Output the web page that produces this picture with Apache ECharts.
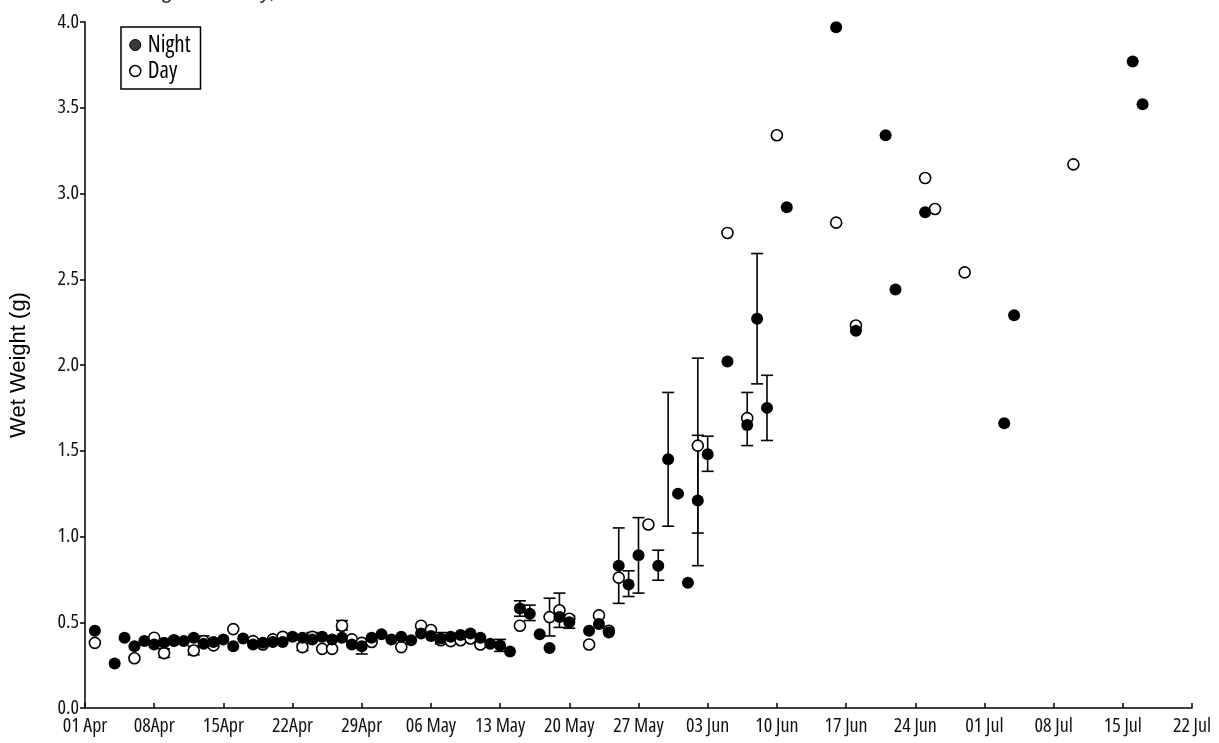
<!DOCTYPE html>
<html>
<head>
<meta charset="utf-8">
<title>Wet Weight, Night vs Day</title>
<script src="https://cdn.jsdelivr.net/npm/echarts@6/dist/echarts.min.js"></script>
<style>
  html, body { margin: 0; padding: 0; background: #fff; }
  #chart { width: 1219px; height: 743px; }
</style>
</head>
<body>
<div id="chart"></div>
<script>
// Tick labels along the date axis (one per week starting 01 Apr)
const tickLabels = ['01 Apr', '08Apr', '15Apr', '22Apr', '29Apr', '06 May', '13 May', '20 May',
  '27 May', '03 Jun', '10 Jun', '17 Jun', '24 Jun', '01 Jul', '08 Jul', '15 Jul', '22 Jul'];

// Night samples: date, mean wet weight (g), error bar low / high (null = no bar)
const nightDates = [
  '2003-04-02', '2003-04-04', '2003-04-05', '2003-04-06', '2003-04-07', '2003-04-08', '2003-04-09',
  '2003-04-10', '2003-04-11', '2003-04-12', '2003-04-13', '2003-04-14', '2003-04-15', '2003-04-16',
  '2003-04-17', '2003-04-18', '2003-04-19', '2003-04-20', '2003-04-21', '2003-04-22', '2003-04-23',
  '2003-04-24', '2003-04-25', '2003-04-26', '2003-04-27', '2003-04-28', '2003-04-29', '2003-04-30',
  '2003-05-01', '2003-05-02', '2003-05-03', '2003-05-04', '2003-05-05', '2003-05-06', '2003-05-07',
  '2003-05-08', '2003-05-09', '2003-05-10', '2003-05-11', '2003-05-12', '2003-05-13', '2003-05-14',
  '2003-05-15', '2003-05-16', '2003-05-17', '2003-05-18', '2003-05-19', '2003-05-20', '2003-05-22',
  '2003-05-23', '2003-05-24', '2003-05-25', '2003-05-26', '2003-05-27', '2003-05-29', '2003-05-30',
  '2003-05-31', '2003-06-01', '2003-06-02', '2003-06-03', '2003-06-05', '2003-06-07', '2003-06-08',
  '2003-06-09', '2003-06-11', '2003-06-16', '2003-06-18', '2003-06-21', '2003-06-22', '2003-06-25',
  '2003-07-03', '2003-07-04', '2003-07-16', '2003-07-17'];
const nightWeight = [
  0.45, 0.26, 0.41, 0.36, 0.39, 0.37, 0.38,
  0.39, 0.39, 0.41, 0.375, 0.385, 0.40, 0.36,
  0.405, 0.37, 0.38, 0.385, 0.385, 0.415, 0.41,
  0.40, 0.415, 0.40, 0.41, 0.37, 0.36, 0.41,
  0.43, 0.40, 0.415, 0.395, 0.435, 0.42, 0.405,
  0.415, 0.425, 0.435, 0.41, 0.375, 0.365, 0.33,
  0.58, 0.55, 0.43, 0.35, 0.53, 0.50, 0.45,
  0.49, 0.44, 0.83, 0.72, 0.89, 0.83, 1.45,
  1.25, 0.73, 1.21, 1.48, 2.02, 1.65, 2.27,
  1.75, 2.92, 3.97, 2.20, 3.34, 2.44, 2.89,
  1.66, 2.29, 3.77, 3.52];
const nightLow = [
  null, null, null, null, null, null, null,
  null, null, null, null, null, null, null,
  null, null, null, null, null, null, null,
  null, null, null, null, null, 0.315, null,
  null, null, null, null, null, null, 0.375,
  null, null, null, null, null, 0.33, null,
  0.535, 0.51, null, null, null, 0.465, null,
  null, null, 0.61, 0.65, 0.67, 0.745, 1.06,
  null, null, 0.83, 1.38, null, null, 1.89,
  1.56, null, null, null, null, null, null,
  null, null, null, null];
const nightHigh = [
  null, null, null, null, null, null, null,
  null, null, null, null, null, null, null,
  null, null, null, null, null, null, null,
  null, null, null, null, null, 0.40, null,
  null, null, null, null, null, null, 0.44,
  null, null, null, null, null, 0.40, null,
  0.625, 0.60, null, null, null, 0.535, null,
  null, null, 1.05, 0.80, 1.11, 0.92, 1.84,
  null, null, 1.59, 1.585, null, null, 2.65,
  1.94, null, null, null, null, null, null,
  null, null, null, null];

// Day samples: date, mean wet weight (g), error bar low / high (null = no bar)
const dayDates = [
  '2003-04-02', '2003-04-06', '2003-04-08', '2003-04-09', '2003-04-10', '2003-04-12', '2003-04-13',
  '2003-04-14', '2003-04-16', '2003-04-18', '2003-04-19', '2003-04-20', '2003-04-21', '2003-04-23',
  '2003-04-24', '2003-04-25', '2003-04-26', '2003-04-27', '2003-04-28', '2003-04-29', '2003-04-30',
  '2003-05-03', '2003-05-05', '2003-05-06', '2003-05-07', '2003-05-08', '2003-05-09', '2003-05-10',
  '2003-05-11', '2003-05-15', '2003-05-18', '2003-05-19', '2003-05-20', '2003-05-22', '2003-05-23',
  '2003-05-24', '2003-05-25', '2003-05-28', '2003-06-02', '2003-06-05', '2003-06-07', '2003-06-10',
  '2003-06-16', '2003-06-18', '2003-06-25', '2003-06-26', '2003-06-29', '2003-07-10'];
const dayWeight = [
  0.38, 0.29, 0.41, 0.32, 0.395, 0.335, 0.39,
  0.365, 0.46, 0.39, 0.37, 0.40, 0.415, 0.355,
  0.415, 0.345, 0.345, 0.48, 0.40, 0.38, 0.385,
  0.355, 0.48, 0.455, 0.395, 0.39, 0.395, 0.405,
  0.37, 0.48, 0.53, 0.57, 0.52, 0.37, 0.54,
  0.45, 0.76, 1.07, 1.53, 2.77, 1.69, 3.34,
  2.83, 2.23, 3.09, 2.91, 2.54, 3.17];
const dayLow = [
  null, null, null, 0.295, null, 0.31, 0.365,
  null, null, null, null, null, null, 0.335,
  0.39, null, null, 0.455, null, null, null,
  null, null, null, null, null, null, null,
  null, null, 0.42, 0.47, null, null, null,
  null, null, null, 1.02, null, 1.53, null,
  null, null, null, null, null, null];
const dayHigh = [
  null, null, null, 0.345, null, 0.36, 0.42,
  null, null, null, null, null, null, 0.375,
  0.44, null, null, 0.51, null, null, null,
  null, null, null, null, null, null, null,
  null, null, 0.64, 0.67, null, null, null,
  null, null, null, 2.04, null, 1.84, null,
  null, null, null, null, null, null];

const START = Date.UTC(2003, 3, 1);
const DAY_MS = 86400000;
// condensed face of Open Sans for ticks and legend
const COND_FAMILY = "'Open Sans', 'DejaVu Sans Condensed', sans-serif";
const COND_WEIGHT = 'condensed';

// days elapsed since 01 Apr
function dayOf(s) {
  const [y, m, d] = s.split('-').map(Number);
  return Math.round((Date.UTC(y, m - 1, d) - START) / DAY_MS);
}

function points(dates, values) {
  return dates.map((d, i) => [dayOf(d), values[i]]);
}

function bars(dates, lows, highs) {
  const out = [];
  dates.forEach((d, i) => {
    if (lows[i] != null && highs[i] != null) out.push([dayOf(d), lows[i], highs[i]]);
  });
  return out;
}

// vertical error bar with flat caps
function renderErrorBar(params, api) {
  const x = api.value(0);
  const top = api.coord([x, api.value(2)]);
  const bottom = api.coord([x, api.value(1)]);
  const half = 6;
  const style = { stroke: '#000', lineWidth: 1.6 };
  return {
    type: 'group',
    children: [
      { type: 'line', shape: { x1: top[0], y1: top[1], x2: bottom[0], y2: bottom[1] }, style },
      { type: 'line', shape: { x1: top[0] - half, y1: top[1], x2: top[0] + half, y2: top[1] }, style },
      { type: 'line', shape: { x1: bottom[0] - half, y1: bottom[1], x2: bottom[0] + half, y2: bottom[1] }, style }
    ]
  };
}

const chart = echarts.init(document.getElementById('chart'), null, { renderer: 'canvas' });

chart.setOption({
  backgroundColor: '#fff',
  animation: false,
  grid: { left: 82, right: 27, top: 22, bottom: 35, containLabel: false },
  graphic: [{
    type: 'text',
    right: 889,
    top: -19,
    style: { text: 'Night vs. Day, 2003', font: "22px 'Liberation Sans', Arial, sans-serif", fill: '#333' }
  }],
  legend: {
    orient: 'vertical',
    left: 121,
    top: 27,
    padding: [5, 10, 5, 8],
    itemGap: 0,
    itemWidth: 11,
    itemHeight: 11,
    borderColor: '#000',
    borderWidth: 1.5,
    backgroundColor: '#fff',
    textStyle: { fontFamily: COND_FAMILY, fontWeight: COND_WEIGHT, fontSize: 23, color: '#000', lineHeight: 26, padding: [0, 0, 0, 2] },
    data: [
      { name: 'Night', icon: 'circle', itemStyle: { color: '#3a3a3a', borderColor: '#000', borderWidth: 1 } },
      { name: 'Day', icon: 'circle', itemStyle: { color: '#fff', borderColor: '#000', borderWidth: 1.5 } }
    ]
  },
  xAxis: {
    type: 'value',
    min: 0,
    max: 112,
    interval: 7,
    axisLine: { show: true, lineStyle: { color: '#000', width: 1.5 } },
    axisTick: { show: true, inside: true, length: 5, lineStyle: { color: '#000', width: 1.5 } },
    axisLabel: {
      color: '#111', fontFamily: COND_FAMILY, fontWeight: COND_WEIGHT, fontSize: 20, margin: 8,
      formatter: v => tickLabels[Math.round(v / 7)] || ''
    },
    splitLine: { show: false }
  },
  yAxis: {
    type: 'value',
    min: 0,
    max: 4,
    interval: 0.5,
    name: 'Wet Weight (g)',
    nameLocation: 'middle',
    nameGap: 55,
    nameTextStyle: { fontFamily: "'Liberation Sans', Arial, sans-serif", fontSize: 22, color: '#000' },
    axisLine: { show: true, lineStyle: { color: '#000', width: 1.5 } },
    axisTick: { show: true, inside: false, length: 5, lineStyle: { color: '#000', width: 1.5 } },
    axisLabel: {
      color: '#111', fontFamily: COND_FAMILY, fontWeight: COND_WEIGHT, fontSize: 20, margin: 6,
      formatter: v => v.toFixed(1)
    },
    splitLine: { show: false }
  },
  series: [
    {
      name: 'NightBars',
      type: 'custom',
      renderItem: renderErrorBar,
      data: bars(nightDates, nightLow, nightHigh),
      z: 1,
      silent: true
    },
    {
      name: 'DayBars',
      type: 'custom',
      renderItem: renderErrorBar,
      data: bars(dayDates, dayLow, dayHigh),
      z: 1,
      silent: true
    },
    {
      name: 'Day',
      type: 'scatter',
      symbol: 'circle',
      symbolSize: 11,
      itemStyle: { color: '#fff', borderColor: '#000', borderWidth: 1.6, opacity: 1 },
      data: points(dayDates, dayWeight),
      z: 2
    },
    {
      name: 'Night',
      type: 'scatter',
      symbol: 'circle',
      symbolSize: 12,
      itemStyle: { color: '#000', opacity: 1 },
      data: points(nightDates, nightWeight),
      z: 3
    }
  ]
});
</script>
</body>
</html>
